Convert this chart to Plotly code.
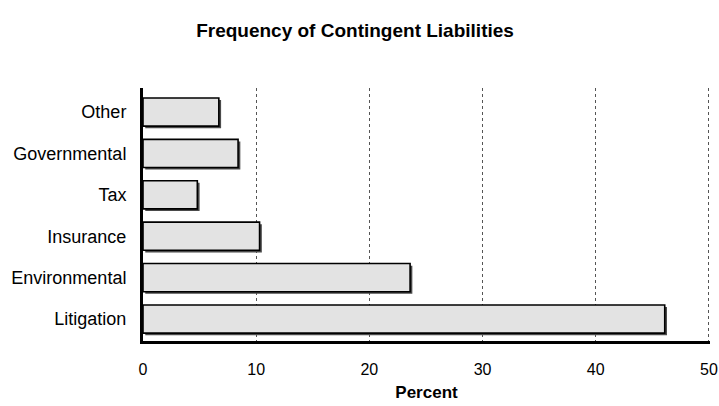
import plotly.graph_objects as go

categories = ["Litigation", "Environmental", "Insurance", "Tax", "Governmental", "Other"]
values = [46.1, 23.6, 10.3, 4.8, 8.4, 6.7]
x_ticks = [0, 10, 20, 30, 40, 50]

FONT = "Liberation Sans Narrow, Arial Narrow, Liberation Sans, sans-serif"
W = 0.68
shadow_dx = 0.2
shadow_dy = 0.05

fig = go.Figure()
# shadow
fig.add_trace(go.Bar(
    y=categories, x=values, base=shadow_dx, orientation="h",
    width=W, offset=-W / 2 - shadow_dy,
    marker=dict(color="#4a4a4a", line=dict(width=0)),
    hoverinfo="skip", showlegend=False,
))
fig.add_trace(go.Bar(
    y=categories, x=values, orientation="h",
    width=W, offset=-W / 2,
    marker=dict(color="#e3e3e3", line=dict(color="black", width=1.6)),
    showlegend=False,
))

fig.update_layout(
    width=719, height=406,
    margin=dict(l=143, r=9, t=88, b=65, autoexpand=False),
    paper_bgcolor="white", plot_bgcolor="white",
    barmode="overlay",
    title=dict(text="<b>Frequency of Contingent Liabilities</b>",
               x=355 / 719, xref="container", xanchor="center",
               y=1 - 30 / 406, yref="container", yanchor="middle",
               font=dict(family=FONT, size=19, color="black")),
    font=dict(family=FONT, color="black"),
    xaxis=dict(range=[0, 50.1], tickvals=x_ticks, showgrid=True,
               gridcolor="#555555", griddash="dot", gridwidth=1,
               showline=True, linecolor="black", linewidth=3,
               zeroline=False, ticks="", ticklabelstandoff=12,
               automargin=False,
               tickfont=dict(family=FONT, size=16),
               title=dict(text="<b>Percent</b>", standoff=9,
                          font=dict(family=FONT, size=17))),
    yaxis=dict(range=[-0.53, 5.58], showgrid=False,
               showline=True, linecolor="black", linewidth=3,
               ticks="", ticklabelstandoff=10, automargin=False,
               tickfont=dict(family=FONT, size=18)),
)

fig.write_html("out.html",
               config={"displayModeBar": False},
               post_script="document.body.style.margin='0';document.body.style.overflow='hidden';")
